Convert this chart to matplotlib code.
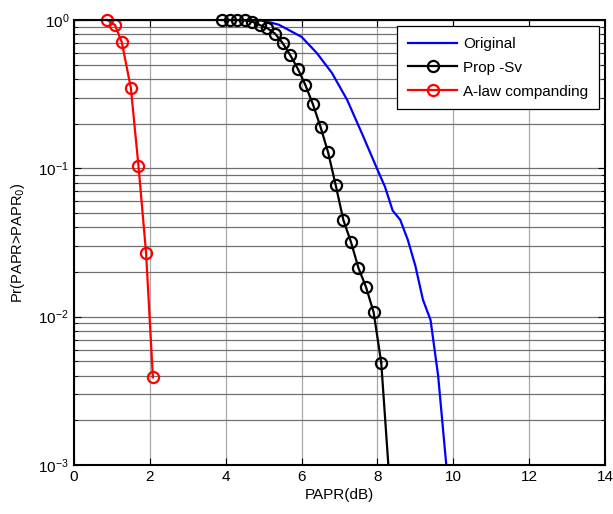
import matplotlib.pyplot as plt
from matplotlib.ticker import LogLocator, NullFormatter

plt.rcParams["font.family"] = ["Liberation Sans", "DejaVu Sans"]
plt.rcParams["axes.unicode_minus"] = False

# Original (no reduction) CCDF
orig_x = [4.6, 5.0, 5.4, 5.8, 6.0, 6.4, 6.8, 7.2, 7.6, 8.0, 8.2, 8.4, 8.6,
          8.8, 9.0, 9.2, 9.4, 9.6, 9.8, 9.85]
orig_y = [1.0, 0.99, 0.93, 0.82, 0.77, 0.6, 0.44, 0.29, 0.17, 0.098, 0.075,
          0.052, 0.045, 0.033, 0.022, 0.013, 0.0095, 0.004, 0.0011, 0.0008]

# Proposed -Sv
prop_x = [3.9, 4.1, 4.3, 4.5, 4.7, 4.9, 5.1, 5.3, 5.5, 5.7, 5.9, 6.1, 6.3,
          6.5, 6.7, 6.9, 7.1, 7.3, 7.5, 7.7, 7.9, 8.1, 8.3]
prop_y = [1.0, 1.0, 1.0, 0.995, 0.975, 0.925, 0.88, 0.81, 0.70, 0.58, 0.47,
          0.365, 0.27, 0.19, 0.128, 0.077, 0.045, 0.032, 0.0213, 0.0158,
          0.0107, 0.0049, 0.0009]

# A-law companding
alaw_x = [0.88, 1.08, 1.26, 1.50, 1.70, 1.90, 2.08]
alaw_y = [1.0, 0.925, 0.71, 0.347, 0.104, 0.027, 0.0039]


def main() -> None:
    fig = plt.figure(figsize=(6.13, 5.14), dpi=100)
    ax = fig.add_axes([0.1207, 0.0953, 0.8663, 0.8657])

    mstyle = dict(linewidth=1.6, marker="o", markersize=8,
                  markerfacecolor="none", markeredgewidth=1.6, clip_on=False)

    ax.semilogy(orig_x, orig_y, color="#0000ff", linewidth=1.6, label="Original")

    # markers are drawn unclipped (as in the original figure); the tail that
    # falls below 1e-3 is drawn as a clipped segment without markers
    ax.semilogy(prop_x[:-1], prop_y[:-1], color="black", label="Prop -Sv",
                **mstyle)
    ax.semilogy(prop_x[-2:], prop_y[-2:], color="black", linewidth=1.6)

    ax.semilogy(alaw_x, alaw_y, color="#ff0000", label="A-law companding",
                **mstyle)

    ax.set_xlim(0, 14)
    ax.set_ylim(1e-3, 1)
    ax.set_xticks(range(0, 15, 2))
    ax.yaxis.set_major_locator(LogLocator(base=10, numticks=10))
    ax.yaxis.set_minor_locator(LogLocator(base=10, subs=range(2, 10), numticks=20))
    ax.yaxis.set_minor_formatter(NullFormatter())

    ax.grid(True, which="major", axis="x", color="#a8a8a8", linewidth=0.9)
    ax.grid(True, which="both", axis="y", color="#707070", linewidth=0.9)
    ax.set_axisbelow(True)

    ax.tick_params(which="both", direction="in", top=True, right=True,
                   labelsize=11)
    ax.tick_params(which="major", length=5)
    ax.tick_params(which="minor", length=3)
    for spine in ax.spines.values():
        spine.set_linewidth(1.5)

    ax.set_xlabel("PAPR(dB)", fontsize=11, labelpad=3)
    ax.set_ylabel("Pr(PAPR>PAPR$_0$)", fontsize=10.5, labelpad=8)

    leg = ax.legend(loc="upper right", fontsize=11, fancybox=False,
                    framealpha=1, edgecolor="black", handlelength=3.2,
                    handletextpad=0.4, borderaxespad=0.4, borderpad=0.7,
                    labelspacing=0.65)
    leg.get_frame().set_linewidth(0.9)

    fig.savefig("out.png", dpi=100)
    plt.close(fig)


if __name__ == "__main__":
    main()
